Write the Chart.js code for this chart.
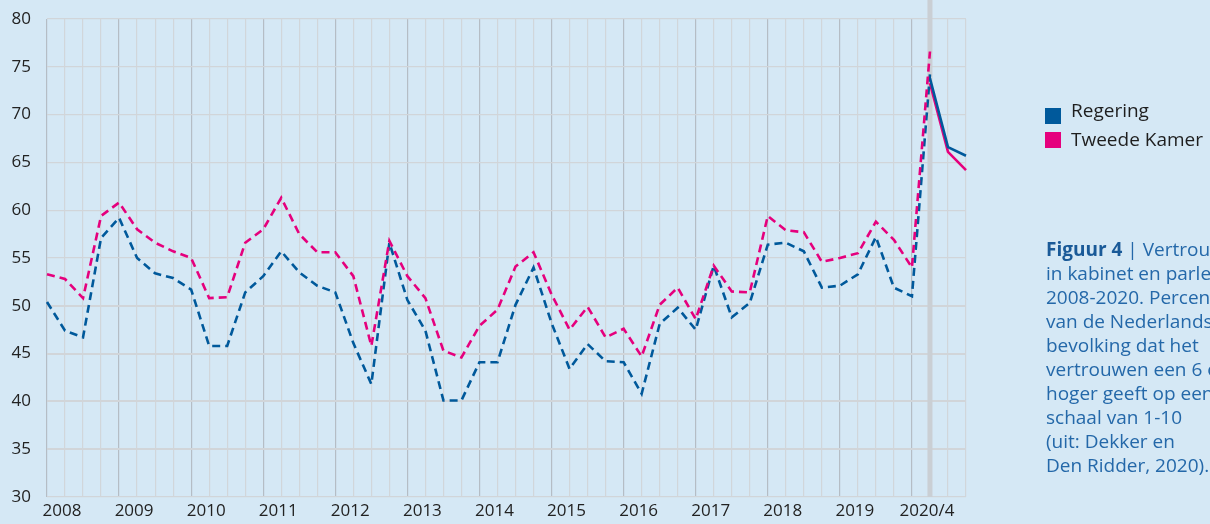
<!DOCTYPE html>
<html>
<head>
<meta charset="utf-8">
<script src="https://cdn.jsdelivr.net/npm/chart.js@4.4.1/dist/chart.umd.min.js"></script>
<style>
  html, body { margin: 0; padding: 0; background: #d5e8f5; overflow: hidden; }
  #wrap { position: absolute; left: 0; top: 0; width: 1210px; height: 524px; }
  .sq { position: absolute; width: 16px; height: 16px; }
  .lt { position: absolute; font: 19px "Open Sans", sans-serif; line-height: 19px; color: #1e1e1e; white-space: nowrap; }
  #caption { position: absolute; left: 1046px; top: 237px; font: 19px "Open Sans", sans-serif; line-height: 24px; color: #2468a9; white-space: nowrap; }
  #caption b { font-weight: 700; color: #1a5a98; }
</style>
</head>
<body>
<div id="wrap"><canvas id="trust-chart"></canvas></div>

<div class="sq" style="left:1045px; top:108px; background:#00599b"></div>
<div class="lt" style="left:1071px; top:101px">Regering</div>
<div class="sq" style="left:1045px; top:132px; background:#e5007d"></div>
<div class="lt" style="left:1071px; top:130px">Tweede Kamer</div>

<div id="caption"><b>Figuur 4</b> | Vertrouwen<br>in kabinet en parlement<br>2008-2020. Percentage<br>van de Nederlandse<br>bevolking dat het<br>vertrouwen een 6 of<br>hoger geeft op een<br>schaal van 1-10<br>(uit: Dekker en<br>Den Ridder, 2020).</div>

<script>
// one label per year, the other quarters stay empty
const years = ['2008','2009','2010','2011','2012','2013','2014','2015','2016','2017','2018','2019','2020/4'];

// quarterly survey, 2008 Q1 up to 2020 Q2 (dashed)
const regering = [50.4,47.4,46.7,57.1,59.2,55.0,53.4,52.9,51.7,45.8,45.8,51.4,53.1,
  55.7,53.5,52.1,51.4,46.1,41.8,56.6,50.6,47.4,40.1,40.1,44.1,44.1,50.1,54.0,
  48.2,43.4,46.0,44.2,44.1,40.8,48.1,49.8,47.5,54.2,48.8,50.3,56.4,56.6,55.7,
  51.9,52.1,53.3,57.2,51.9,51.0,74.2];
const tweedeKamer = [53.3,52.8,50.8,59.4,60.8,58.0,56.6,55.7,55.0,50.8,50.9,56.6,58.0,
  61.3,57.5,55.6,55.6,53.1,45.8,56.8,53.1,50.8,45.3,44.6,47.9,49.6,54.1,55.6,
  51.2,47.5,49.9,46.7,47.6,44.7,50.1,51.9,48.6,54.2,51.5,51.4,59.4,57.9,57.7,
  54.6,55.0,55.5,58.8,56.9,54.0,76.6];

// separate 2020 measurement from 2020/4 onwards (solid)
const regering2020 = [73.8,66.6,65.7];
const tweedeKamer2020 = [73.3,66.1,64.2];

const labels = years.flatMap(y => [y, '', '', '']);
const startSolid = regering.length - 1;

function pad(arr, before, total) {
  const out = new Array(total).fill(null);
  arr.forEach((v, i) => { out[before + i] = v; });
  return out;
}

const BLUE = '#00599b';
const PINK = '#e5007d';

// grey marker at 2020/4 that runs up to the top of the canvas
const markerLine = {
  id: 'markerLine',
  beforeDatasetsDraw(chart) {
    const x = chart.scales.x.getPixelForValue(startSolid);
    const ctx = chart.ctx;
    ctx.save();
    ctx.strokeStyle = '#cacfd4';
    ctx.lineWidth = 5;
    ctx.beginPath();
    ctx.moveTo(x, 0);
    ctx.lineTo(x, chart.chartArea.bottom);
    ctx.stroke();
    ctx.restore();
  }
};

new Chart('trust-chart', {
  type: 'line',
  data: {
    labels: labels,
    datasets: [
      { label: 'Tweede Kamer', data: pad(tweedeKamer, 0, labels.length), borderColor: PINK, borderDash: [8, 5] },
      { label: 'Regering', data: pad(regering, 0, labels.length), borderColor: BLUE, borderDash: [8, 5] },
      { label: 'Regering 2020', data: pad(regering2020, startSolid, labels.length), borderColor: BLUE },
      { label: 'Tweede Kamer 2020', data: pad(tweedeKamer2020, startSolid, labels.length), borderColor: PINK }
    ]
  },
  plugins: [markerLine],
  options: {
    responsive: true,
    maintainAspectRatio: false,
    animation: false,
    layout: { padding: { top: 19, right: 244, left: 0, bottom: 0 } },
    elements: {
      point: { radius: 0 },
      line: { borderWidth: 2.6, tension: 0, fill: false, borderCapStyle: 'butt' }
    },
    plugins: { legend: { display: false }, tooltip: { enabled: false } },
    scales: {
      x: {
        offset: false,
        afterFit: s => { s.height = 27; },
        border: { display: false },
        grid: {
          drawTicks: false,
          color: ctx => ctx.index % 4 === 0 ? '#b5bdc5' : '#d1d6da',
          lineWidth: 1.2
        },
        ticks: {
          autoSkip: false, maxRotation: 0, padding: 4, labelOffset: 15,
          color: '#222', font: { family: 'Open Sans', size: 17 }
        }
      },
      y: {
        min: 30, max: 80,
        afterFit: s => { s.width = 47; s.paddingTop = 0; s.paddingBottom = 0; },
        border: { display: false },
        grid: {
          drawTicks: false,
          color: '#d1d5d9',
          lineWidth: ctx => ctx.tick.value <= 50 && ctx.tick.value > 30 ? 2 : 1.2
        },
        ticks: {
          stepSize: 5, padding: 16,
          color: '#222', font: { family: 'Open Sans', size: 17 }
        }
      }
    }
  }
});
</script>
</body>
</html>
